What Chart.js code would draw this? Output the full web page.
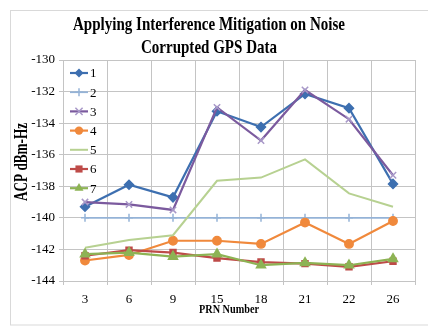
<!DOCTYPE html>
<html><head><meta charset="utf-8">
<script src="https://cdn.jsdelivr.net/npm/chart.js@4.4.0/dist/chart.umd.min.js"></script>
<style>html,body{margin:0;padding:0;background:#fff;} #wrap{position:relative;width:428px;height:327px;}</style>
</head><body><div id="wrap"><canvas id="c" width="428" height="327"></canvas></div>
<script>
const categories = ['3', '6', '9', '15', '18', '21', '22', '26'];
const seriesNames = ['1', '2', '3', '4', '5', '6', '7'];
const series1 = [-139.3, -137.9, -138.7, -133.25, -134.25, -132.15, -133.05, -137.85];
const series2 = [-140, -140, -140, -140, -140, -140, -140, -140];
const series3 = [-139.0, -139.15, -139.5, -133.0, -135.1, -131.9, -133.75, -137.3];
const series4 = [-142.7, -142.35, -141.45, -141.45, -141.65, -140.3, -141.65, -140.2];
const series5 = [-141.9, -141.4, -141.1, -137.65, -137.45, -136.3, -138.45, -139.3];
const series6 = [-142.4, -142.05, -142.2, -142.55, -142.8, -142.9, -143.1, -142.75];
const series7 = [-142.3, -142.2, -142.45, -142.3, -143.0, -142.85, -143.0, -142.6];
const yMin = -144, yMax = -130, yStep = 2;
const xTitle = 'PRN Number';
const yTitle = 'ACP dBm-Hz';
const chartTitle = ['Applying Interference Mitigation on Noise', 'Corrupted GPS Data'];

const allSeries = [series1, series2, series3, series4, series5, series6, series7];
const styles = [
  {c: '#3d6fb0', pc: '#3d6fb0', ps: 'rectRot', r: 4.5, w: 2.2},
  {c: '#95b3d7', pc: '#95b3d7', ps: 'cross', r: 4, w: 1.8},
  {c: '#7b5a9e', pc: '#a898c8', ps: 'crossRot', r: 4.5, w: 2.2},
  {c: '#f0893c', pc: '#f0893c', ps: 'circle', r: 4.2, w: 2.2},
  {c: '#b7d191', pc: '#b7d191', ps: false, r: 0, w: 2},
  {c: '#be4b48', pc: '#be4b48', ps: 'rect', r: 4.2, w: 2.2},
  {c: '#8db354', pc: '#8db354', ps: 'triangle', r: 5.2, w: 2.2}
];

const datasets = allSeries.map((d, i) => ({
  label: seriesNames[i],
  data: d,
  borderColor: styles[i].c,
  backgroundColor: styles[i].pc,
  pointBorderColor: styles[i].pc,
  pointBackgroundColor: styles[i].pc,
  pointStyle: styles[i].ps || 'circle',
  pointRadius: styles[i].r,
  pointBorderWidth: 1.5,
  borderWidth: styles[i].w,
  tension: 0,
  order: 7 - i
}));

function drawMarker(ctx, style, x, y, r, color) {
  ctx.save();
  ctx.fillStyle = color; ctx.strokeStyle = color; ctx.lineWidth = 1.5;
  ctx.beginPath();
  switch (style) {
    case 'rectRot': ctx.moveTo(x, y - r); ctx.lineTo(x + r, y); ctx.lineTo(x, y + r); ctx.lineTo(x - r, y); ctx.closePath(); ctx.fill(); break;
    case 'cross': ctx.moveTo(x - r, y); ctx.lineTo(x + r, y); ctx.moveTo(x, y - r); ctx.lineTo(x, y + r); ctx.stroke(); break;
    case 'crossRot': ctx.moveTo(x - r * 0.8, y - r * 0.8); ctx.lineTo(x + r * 0.8, y + r * 0.8); ctx.moveTo(x + r * 0.8, y - r * 0.8); ctx.lineTo(x - r * 0.8, y + r * 0.8); ctx.stroke(); break;
    case 'circle': ctx.arc(x, y, r, 0, Math.PI * 2); ctx.fill(); break;
    case 'rect': ctx.rect(x - r * 0.85, y - r * 0.85, r * 1.7, r * 1.7); ctx.fill(); break;
    case 'triangle': ctx.moveTo(x, y - r); ctx.lineTo(x + r * 0.87, y + r * 0.5); ctx.lineTo(x - r * 0.87, y + r * 0.5); ctx.closePath(); ctx.fill(); break;
  }
  ctx.restore();
}

// draw text horizontally condensed to a target width (the reference uses a narrow serif face)
function condensedText(ctx, text, cx, cy, font, scale, rot) {
  ctx.save();
  ctx.font = font;
  ctx.fillStyle = '#000';
  ctx.textAlign = 'center';
  ctx.textBaseline = 'middle';
  ctx.translate(cx, cy);
  if (rot) ctx.rotate(rot);
  ctx.scale(scale, 1);
  ctx.fillText(text, 0, 0);
  ctx.restore();
}

const framePlugin = {
  id: 'frame',
  beforeDraw(chart) {
    const ctx = chart.ctx;
    ctx.save();
    ctx.fillStyle = '#fff';
    ctx.fillRect(0, 0, chart.width, chart.height);
    ctx.strokeStyle = '#d9d9d9';
    ctx.lineWidth = 1;
    ctx.strokeRect(10.5, 10.5, 430, 314.5);
    ctx.restore();
  }
};

const titlesPlugin = {
  id: 'titles',
  afterDraw(chart) {
    const ctx = chart.ctx;
    const tFont = 'bold 19px "Liberation Serif"';
    ctx.save(); ctx.font = tFont;
    const s = 272 / ctx.measureText(chartTitle[0]).width;
    ctx.restore();
    condensedText(ctx, chartTitle[0], 209, 25, tFont, s, 0);
    condensedText(ctx, chartTitle[1], 209, 48, tFont, s, 0);
    const yFont = 'bold 18px "Liberation Serif"';
    ctx.save(); ctx.font = yFont;
    const sy = 78 / ctx.measureText(yTitle).width;
    ctx.restore();
    condensedText(ctx, yTitle, 22, 162, yFont, sy, -Math.PI / 2);
    const xFont = 'bold 12px "Liberation Serif"';
    ctx.save(); ctx.font = xFont;
    const sx = 60 / ctx.measureText(xTitle).width;
    ctx.restore();
    condensedText(ctx, xTitle, 229, 310, xFont, sx, 0);
  }
};

const insideLegend = {
  id: 'insideLegend',
  afterDatasetsDraw(chart) {
    const ctx = chart.ctx;
    const x0 = chart.chartArea.left + 7;
    const y0 = chart.chartArea.top + 13;
    ctx.save();
    ctx.font = '13px "Liberation Serif"';
    ctx.textBaseline = 'middle';
    chart.data.datasets.forEach((ds, i) => {
      const y = y0 + i * 19.2;
      const st = styles[i];
      ctx.strokeStyle = st.c; ctx.lineWidth = st.w;
      ctx.beginPath(); ctx.moveTo(x0, y); ctx.lineTo(x0 + 18, y); ctx.stroke();
      if (st.ps) drawMarker(ctx, st.ps, x0 + 9, y, st.r, st.pc);
      ctx.fillStyle = '#000';
      ctx.fillText(ds.label, x0 + 20, y + 1);
    });
    ctx.restore();
  }
};

const gridColor = '#c4c4c4';
new Chart(document.getElementById('c'), {
  type: 'line',
  data: {labels: categories, datasets},
  plugins: [framePlugin, insideLegend, titlesPlugin],
  options: {
    responsive: false,
    devicePixelRatio: 1,
    animation: false,
    layout: {padding: {left: 0, right: 13, top: 60, bottom: 0}},
    plugins: {
      legend: {display: false},
      tooltip: {enabled: false},
      title: {display: false}
    },
    scales: {
      x: {
        offset: true,
        grid: {offset: true, color: gridColor, tickLength: 4, lineWidth: 1},
        border: {color: gridColor},
        ticks: {color: '#000', font: {family: '"Liberation Serif"', size: 13}, padding: 7, maxRotation: 0},
        title: {display: false, text: xTitle},
        afterFit(s) { s.height = 46; }
      },
      y: {
        min: yMin, max: yMax,
        grid: {color: gridColor, tickLength: 4, lineWidth: 1},
        border: {color: gridColor},
        ticks: {stepSize: yStep, color: '#000', font: {family: '"Liberation Serif"', size: 13}, padding: 4},
        title: {display: false, text: yTitle},
        afterFit(s) { s.width = 63; }
      }
    }
  }
});
</script>
</body></html>
